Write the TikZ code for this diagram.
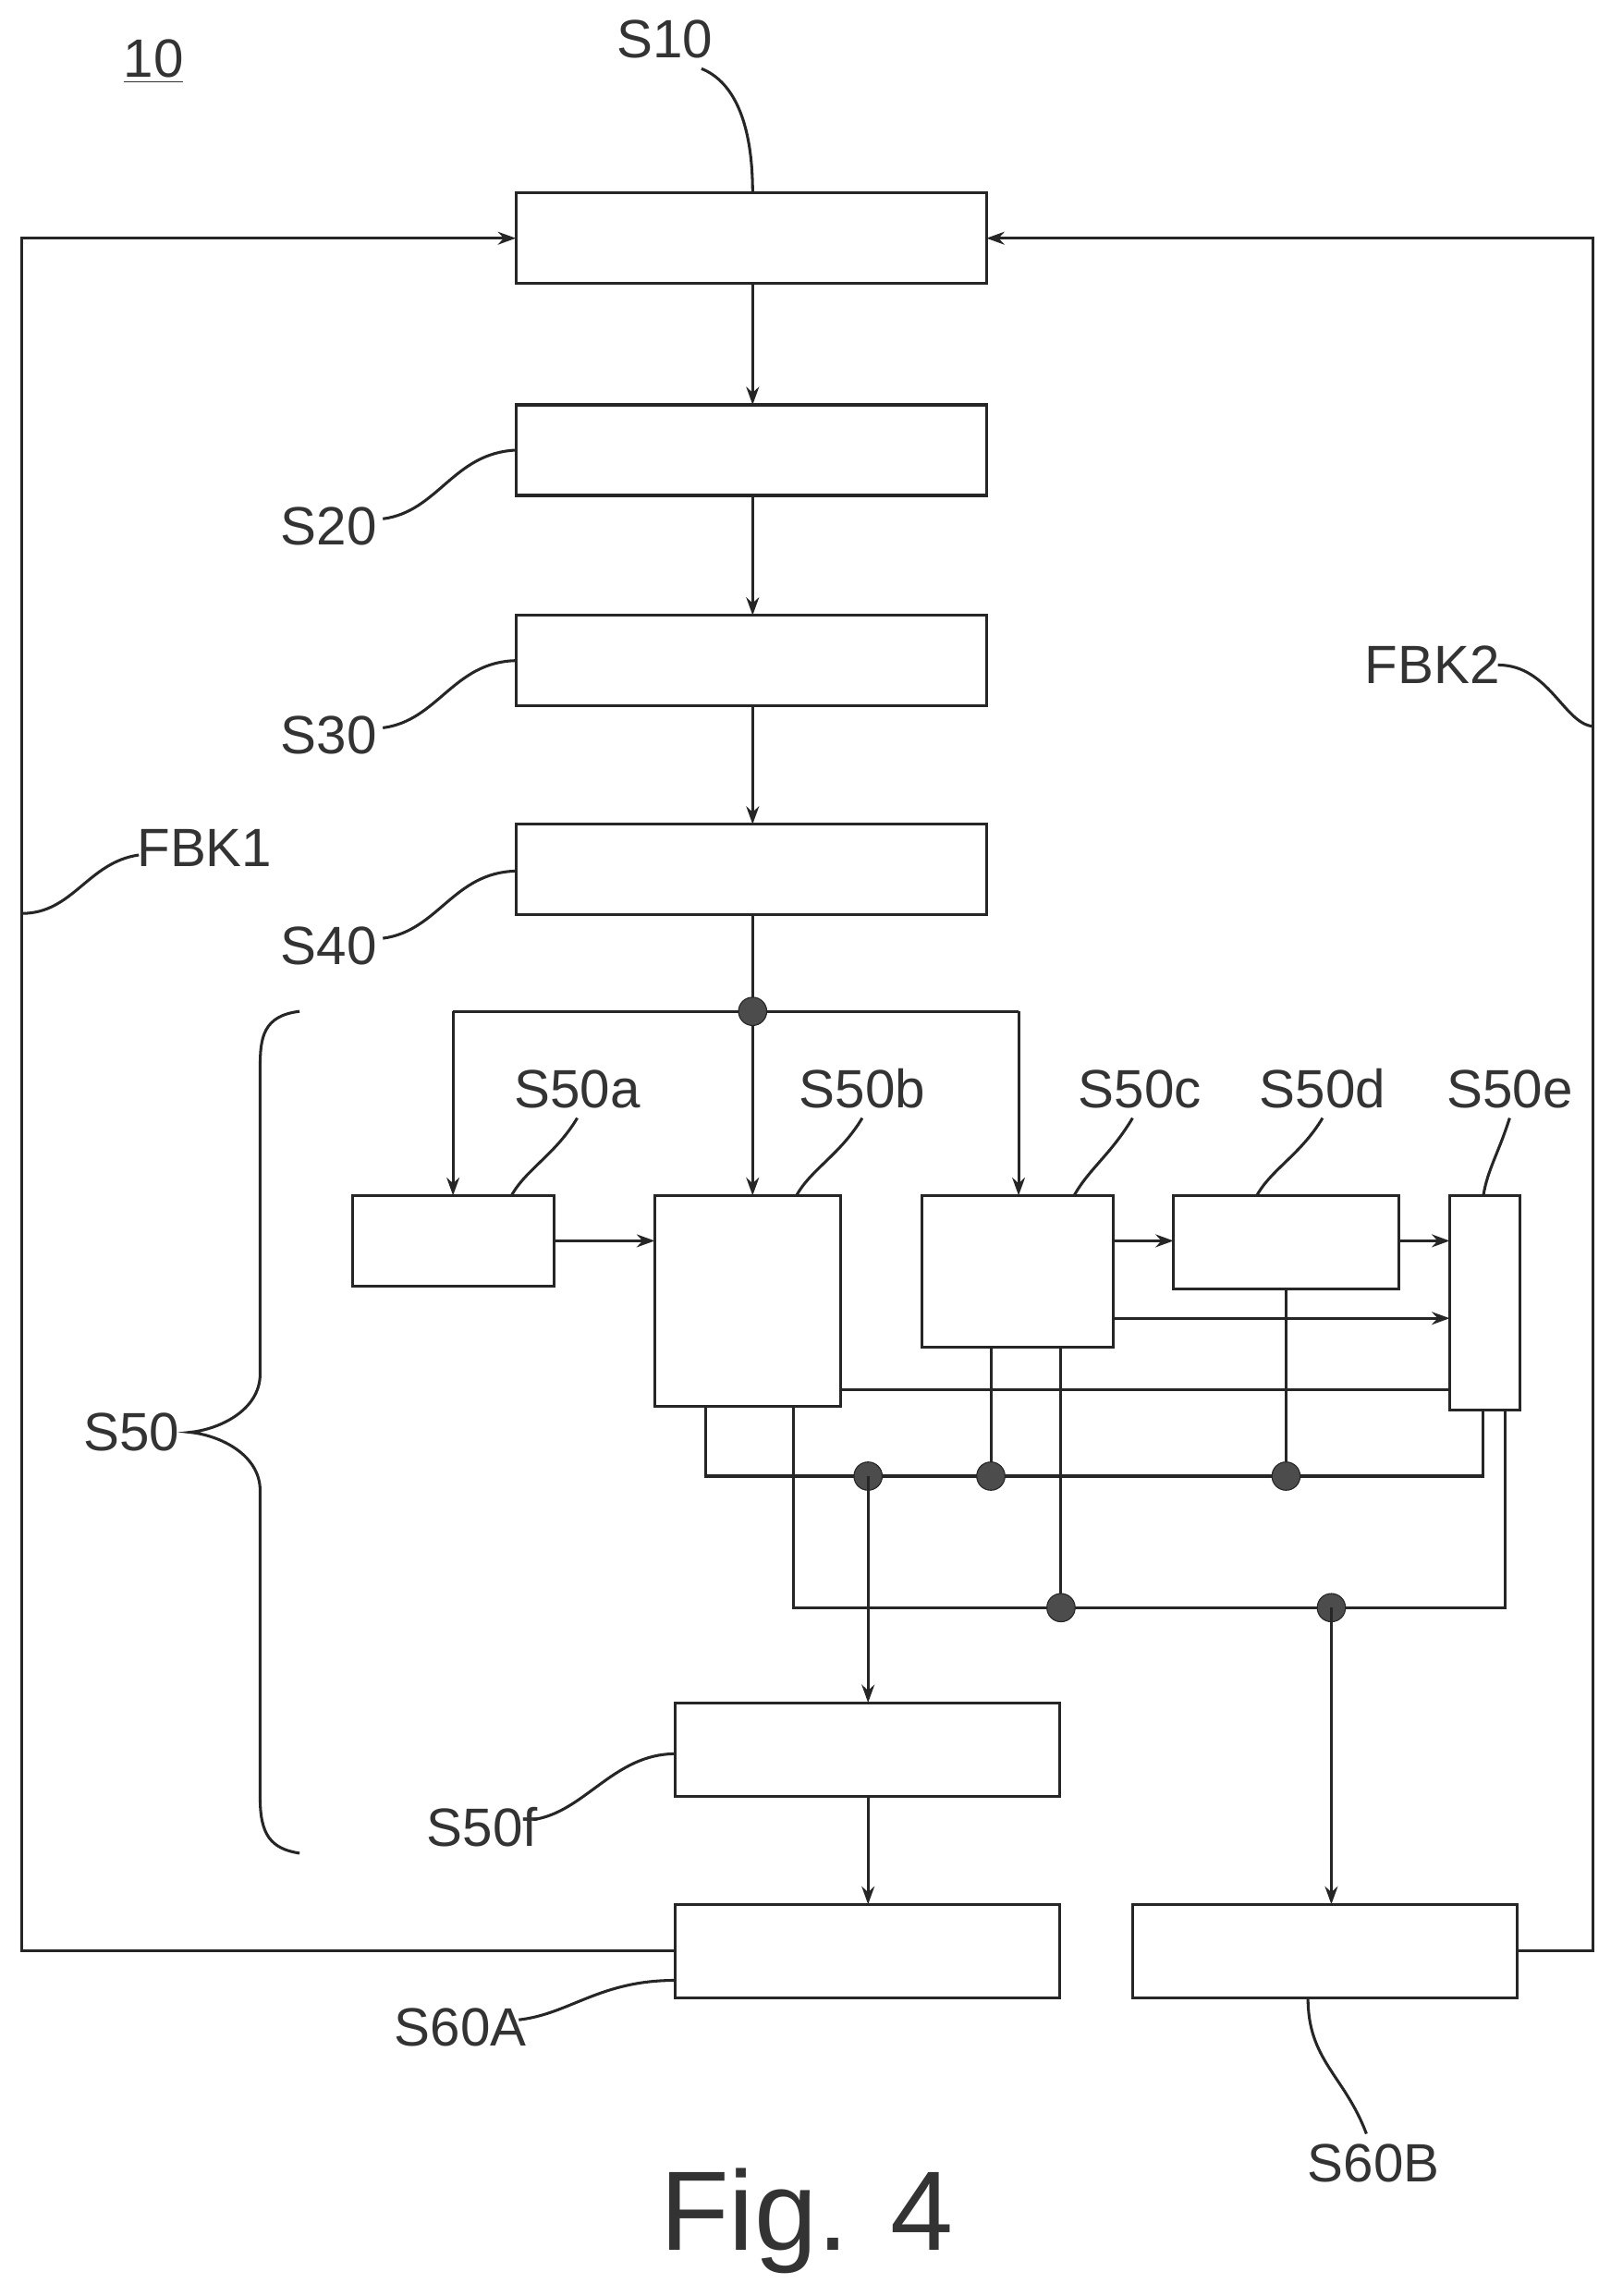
\documentclass[tikz,border=0pt]{standalone}
\usepackage{fontspec}
\setmainfont{Liberation Sans}
\usetikzlibrary{arrows.meta}
\begin{document}
\begin{tikzpicture}[x=0.02cm,y=-0.02cm,
  ln/.style={draw=black!85,line width=1.1pt},
  ar/.style={ln,-{Stealth[length=7pt,width=5pt]}},
  box/.style={ln,fill=white},
  lbl/.style={font=\fontsize{21}{24}\selectfont,text=black!80},
  dot/.style={circle,fill=black!70,draw=black!85,inner sep=0,minimum size=11pt}]
\useasboundingbox (0,0) rectangle (1110,1571);
% boxes
\draw[box] (353,132) rectangle (675,194);
\draw[box] (353,277) rectangle (675,339);
\draw[box] (353,421) rectangle (675,483);
\draw[box] (353,564) rectangle (675,626);
\draw[box] (241,818) rectangle (379,880);
\draw[box] (448,818) rectangle (575,962);
\draw[box] (631,818) rectangle (762,922);
\draw[box] (803,818) rectangle (957,882);
\draw[box] (992,818) rectangle (1040,965);
\draw[box] (462,1165) rectangle (725,1229);
\draw[box] (462,1303) rectangle (725,1367);
\draw[box] (775,1303) rectangle (1038,1367);
% main arrows
\draw[ar] (515,194) -- (515,277);
\draw[ar] (515,339) -- (515,421);
\draw[ar] (515,483) -- (515,564);
\draw[ar] (515,626) -- (515,818);
\draw[ar] (310,692) -- (310,818);
\draw[ln] (310,692) -- (697,692);
\draw[ar] (697,692) -- (697,818);
\node[dot] (j0) at (515,692) {};
\draw[ar] (379,849) -- (448,849);
\draw[ar] (762,849) -- (803,849);
\draw[ar] (957,849) -- (992,849);
\draw[ar] (762,902) -- (992,902);
\draw[ln] (575,951) -- (992,951);
% bus 1
\draw[ln] (483,962) -- (483,1010) -- (1015,1010) -- (1015,965);
\draw[ln] (678,922) -- (678,1010);
\draw[ln] (880,882) -- (880,1010);
% bus 2
\draw[ln] (543,962) -- (543,1100) -- (1030,1100) -- (1030,965);
\draw[ln] (726,922) -- (726,1100);
\node[dot] at (594,1010) {};
\node[dot] at (678,1010) {};
\node[dot] at (880,1010) {};
\node[dot] at (726,1100) {};
\node[dot] at (911,1100) {};
\draw[ar] (594,1010) -- (594,1165);
\draw[ar] (911,1100) -- (911,1303);
\draw[ar] (594,1229) -- (594,1303);
% feedback
\draw[ar] (462,1335) -- (15,1335) -- (15,163) -- (353,163);
\draw[ar] (1038,1335) -- (1090,1335) -- (1090,163) -- (675,163);
% brace
\draw[ln] (205,692) .. controls (180,695) and (178,710) .. (178,730) -- (178,940)
  .. controls (178,965) and (150,978) .. (130,980)
  .. controls (150,982) and (178,995) .. (178,1020) -- (178,1230)
  .. controls (178,1255) and (185,1265) .. (205,1268);
% labels and leaders
\node[lbl] at (455,27) {S10};
\draw[ln] (480,47) .. controls (500,55) and (515,80) .. (515,132);
\node[lbl] at (225,360) {S20};
\draw[ln] (262,355) .. controls (300,350) and (310,310) .. (353,308);
\node[lbl] at (225,503) {S30};
\draw[ln] (262,498) .. controls (300,493) and (310,453) .. (353,452);
\node[lbl] at (225,647) {S40};
\draw[ln] (262,642) .. controls (300,637) and (310,597) .. (353,596);
\node[lbl] at (395,745) {S50a};
\draw[ln] (395,765) .. controls (380,790) and (360,800) .. (350,818);
\node[lbl] at (590,745) {S50b};
\draw[ln] (590,765) .. controls (575,790) and (555,800) .. (545,818);
\node[lbl] at (780,745) {S50c};
\draw[ln] (775,765) .. controls (760,790) and (745,800) .. (735,818);
\node[lbl] at (905,745) {S50d};
\draw[ln] (905,765) .. controls (890,790) and (870,800) .. (860,818);
\node[lbl] at (1033,745) {S50e};
\draw[ln] (1033,765) .. controls (1025,790) and (1018,800) .. (1015,818);
\node[lbl] at (90,980) {S50};
\node[lbl] at (330,1250) {S50f};
\draw[ln] (365,1245) .. controls (400,1240) and (420,1200) .. (462,1200);
\node[lbl] at (315,1387) {S60A};
\draw[ln] (355,1382) .. controls (390,1378) and (410,1355) .. (462,1355);
\node[lbl] at (940,1480) {S60B};
\draw[ln] (935,1460) .. controls (920,1420) and (895,1410) .. (895,1367);
\node[lbl] at (140,580) {FBK1};
\draw[ln] (95,585) .. controls (60,590) and (50,625) .. (15,625);
\node[lbl] at (980,455) {FBK2};
\draw[ln] (1025,455) .. controls (1060,455) and (1070,495) .. (1090,497);
\node[lbl] at (105,42) {\underline{10}};
\node[font=\fontsize{44}{50}\selectfont,text=black!80] at (552,1520) {Fig. 4};
\end{tikzpicture}
\end{document}
